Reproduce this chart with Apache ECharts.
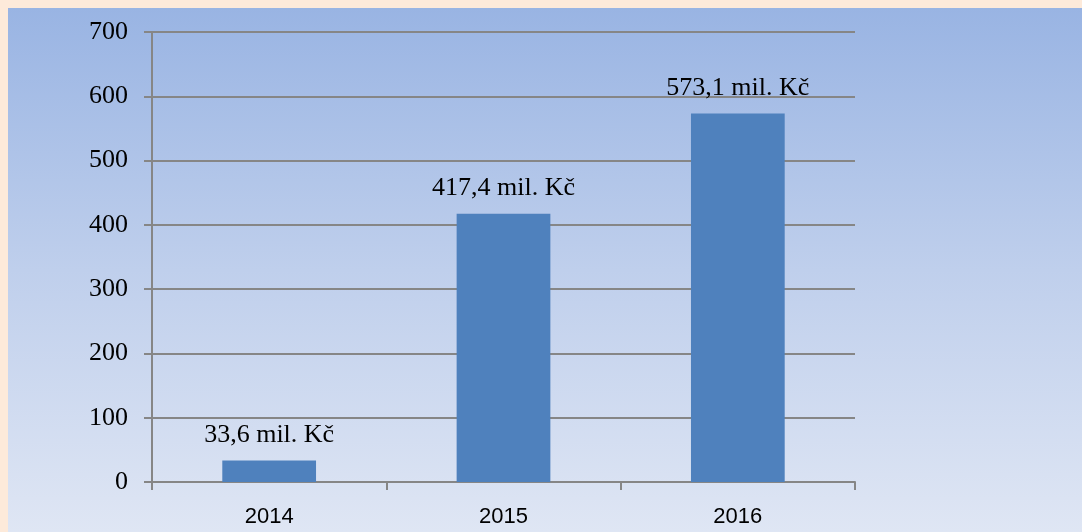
<!DOCTYPE html>
<html>
<head>
<meta charset="utf-8">
<script src="https://cdn.jsdelivr.net/npm/echarts@6/dist/echarts.min.js"></script>
<style>
  html, body { margin: 0; padding: 0; background: #fdeada; }
  #chart { width: 1082px; height: 532px; }
</style>
</head>
<body>
<div id="chart"></div>
<script>
// data
const years = ['2014', '2015', '2016']
const amounts = [33.6, 417.4, 573.1]
const yTicks = [0, 100, 200, 300, 400, 500, 600, 700]

// colours
const axisColor = '#868686'
const barColor = '#4f81bd'

const chart = echarts.init(document.getElementById('chart'))

chart.setOption({
  backgroundColor: '#fdeada',
  animation: false,
  graphic: [{
    type: 'rect',
    left: 8,
    top: 8,
    z: -10,
    silent: true,
    shape: { width: 1074, height: 524 },
    style: {
      fill: new echarts.graphic.LinearGradient(0, 0, 0, 1, [
        { offset: 0, color: '#99b4e3' },
        { offset: 0.5, color: '#bfcfec' },
        { offset: 1, color: '#dfe6f4' }
      ])
    }
  }],
  grid: {
    left: 152,
    right: 227,
    top: 32,
    bottom: 50,
    containLabel: false
  },
  xAxis: {
    type: 'category',
    data: years,
    axisLine: { lineStyle: { color: axisColor, width: 2 } },
    axisTick: { show: true, length: 8, lineStyle: { color: axisColor, width: 2 } },
    axisLabel: {
      color: '#000',
      fontFamily: 'Liberation Sans',
      fontSize: 22,
      margin: 24
    }
  },
  yAxis: {
    type: 'value',
    min: yTicks[0],
    max: yTicks[yTicks.length - 1],
    interval: 100,
    axisLine: { show: true, lineStyle: { color: axisColor, width: 2 } },
    axisTick: { show: true, inside: false, length: 8, lineStyle: { color: axisColor, width: 2 } },
    axisLabel: {
      color: '#000',
      fontFamily: 'Liberation Serif',
      fontSize: 26,
      margin: 24
    },
    splitLine: { lineStyle: { color: axisColor, width: 2 } }
  },
  series: [{
    type: 'bar',
    data: amounts,
    barWidth: '40%',
    itemStyle: { color: barColor },
    label: {
      show: true,
      position: 'top',
      distance: 12,
      color: '#000',
      fontFamily: 'Liberation Serif',
      fontSize: 26,
      formatter: p => String(p.value).replace('.', ',') + ' mil. Kč'
    }
  }]
})
</script>
</body>
</html>
